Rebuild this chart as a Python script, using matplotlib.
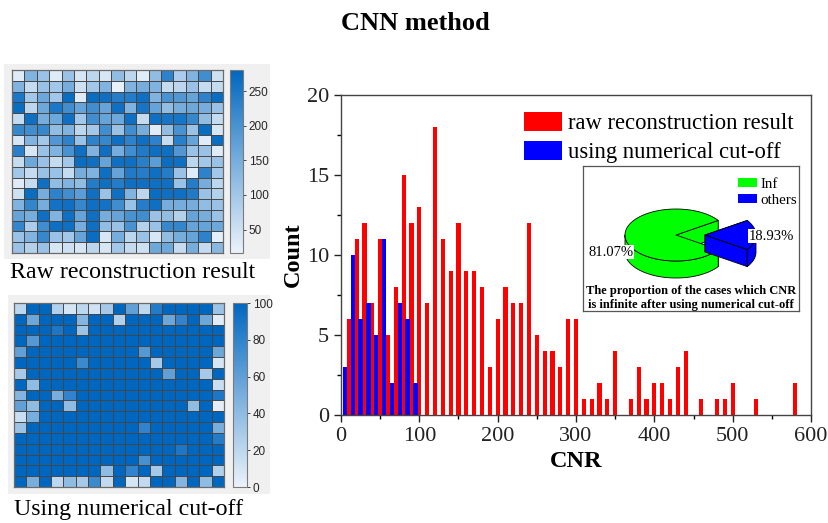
import numpy as np
import matplotlib
matplotlib.use("Agg")
import matplotlib.pyplot as plt
from matplotlib.colors import LinearSegmentedColormap
from matplotlib.patches import Polygon, Rectangle, Patch
from matplotlib.ticker import MultipleLocator

# ---------------- data ----------------
# CNR map of the raw reconstruction (17 x 17 cases)
raw_map = [
    [30, 140, 110, 30, 110, 40, 70, 40, 120, 70, 30, 120, 230, 90, 140, 210, 50],
    [140, 60, 110, 100, 150, 50, 100, 140, 20, 140, 150, 140, 60, 70, 110, 60, 60],
    [250, 100, 160, 100, 270, 30, 270, 265, 240, 240, 265, 140, 200, 190, 170, 230, 270],
    [270, 70, 160, 250, 210, 170, 210, 170, 265, 140, 255, 170, 120, 150, 160, 150, 110],
    [60, 265, 150, 160, 265, 100, 210, 170, 160, 265, 60, 265, 255, 255, 220, 120, 60],
    [220, 210, 220, 120, 140, 70, 100, 210, 110, 210, 150, 30, 120, 200, 110, 270, 40],
    [40, 140, 100, 190, 230, 110, 230, 220, 265, 230, 265, 230, 60, 235, 170, 30, 270],
    [235, 40, 110, 140, 200, 265, 140, 265, 150, 210, 245, 265, 265, 190, 110, 110, 30],
    [60, 160, 110, 60, 100, 270, 265, 170, 265, 265, 235, 180, 270, 265, 70, 100, 110],
    [100, 60, 110, 110, 60, 150, 140, 265, 170, 245, 240, 265, 240, 110, 30, 230, 100],
    [30, 60, 265, 120, 140, 120, 240, 265, 240, 265, 265, 265, 265, 110, 240, 150, 70],
    [50, 270, 150, 230, 210, 180, 265, 110, 265, 140, 70, 270, 265, 265, 245, 110, 80],
    [140, 225, 150, 260, 265, 220, 265, 260, 210, 110, 240, 265, 150, 150, 150, 120, 110],
    [170, 150, 265, 140, 265, 170, 265, 150, 170, 200, 210, 110, 120, 80, 170, 150, 110],
    [225, 90, 210, 265, 265, 150, 265, 120, 110, 200, 80, 110, 220, 225, 170, 170, 160],
    [110, 140, 220, 110, 100, 170, 270, 40, 150, 70, 110, 40, 120, 150, 170, 230, 25],
    [110, 80, 110, 40, 50, 40, 70, 40, 100, 60, 50, 160, 160, 60, 150, 60, 130],
]

# CNR map after the numerical cut-off (17 x 17 cases)
cut_map = [
    [20, 100, 100, 25, 10, 20, 12, 30, 100, 60, 20, 85, 100, 100, 100, 100, 35],
    [100, 55, 100, 100, 100, 45, 100, 100, 25, 100, 100, 100, 55, 80, 100, 55, 5],
    [100, 100, 100, 88, 100, 35, 100, 100, 100, 100, 100, 100, 100, 100, 100, 100, 100],
    [100, 65, 100, 100, 100, 100, 100, 100, 100, 100, 100, 100, 100, 100, 100, 100, 100],
    [60, 100, 100, 100, 100, 100, 100, 100, 100, 100, 65, 100, 100, 100, 100, 100, 55],
    [100, 100, 100, 100, 100, 75, 100, 100, 100, 100, 100, 30, 100, 100, 100, 100, 10],
    [30, 100, 100, 100, 100, 100, 100, 100, 100, 100, 100, 100, 60, 100, 100, 30, 100],
    [100, 40, 100, 100, 100, 100, 100, 100, 100, 100, 100, 100, 100, 100, 100, 100, 15],
    [45, 100, 100, 50, 80, 100, 100, 100, 100, 100, 100, 100, 100, 100, 100, 100, 88],
    [60, 40, 100, 100, 40, 100, 100, 100, 100, 100, 100, 100, 100, 100, 40, 100, 3],
    [15, 50, 100, 100, 100, 100, 100, 100, 100, 100, 100, 100, 100, 100, 100, 100, 100],
    [35, 100, 100, 100, 100, 100, 100, 100, 100, 100, 80, 100, 100, 100, 100, 100, 50],
    [100, 100, 100, 100, 100, 100, 100, 100, 100, 100, 100, 100, 100, 100, 100, 100, 85],
    [100, 100, 100, 100, 100, 100, 100, 100, 100, 100, 100, 100, 100, 88, 100, 100, 100],
    [100, 100, 100, 100, 100, 100, 100, 100, 100, 100, 70, 100, 100, 100, 100, 100, 100],
    [100, 100, 100, 100, 100, 100, 100, 40, 100, 80, 100, 30, 100, 100, 100, 100, 25],
    [100, 50, 100, 20, 40, 30, 75, 18, 100, 10, 18, 100, 100, 45, 100, 40, 100],
]

# CNR histogram
red_cnr = [10, 20, 30, 40, 50, 60, 70, 80, 90, 100, 110, 120, 130, 140, 150,
           160, 170, 180, 190, 200, 210, 220, 230, 240, 250, 260, 270, 280, 290, 300,
           310, 320, 330, 340, 350, 370, 380, 390, 400, 410, 420, 430, 440, 460,
           480, 490, 500, 530, 580]
red_count = [6, 11, 12, 7, 11, 5, 8, 15, 12, 13, 7, 18, 11, 9, 12,
             9, 9, 8, 3, 6, 8, 7, 7, 12, 5, 4, 4, 3, 6, 6,
             1, 1, 2, 1, 4, 1, 3, 1, 2, 2, 1, 3, 4, 1,
             1, 1, 2, 1, 2]
blue_cnr = [5, 15, 25, 35, 45, 55, 65, 75, 85, 95]
blue_count = [3, 10, 6, 7, 5, 11, 2, 7, 6, 2]

series_labels = ["raw reconstruction result", "using numerical cut-off"]

# Pie of the share of infinite CNR
pie_labels = ["Inf", "others"]
pie_pct = [81.07, 18.93]
pie_colors = ["#00FF00", "#0000FF"]

# ---------------- figure ----------------
W, H = 829, 523
fig = plt.figure(figsize=(W / 100, H / 100), dpi=100)
SERIF = ["Liberation Serif", "DejaVu Serif"]
SANS = ["Liberation Sans", "DejaVu Sans"]


def frac(x0, y0, x1, y1):
    return [x0 / W, 1 - y1 / H, (x1 - x0) / W, (y1 - y0) / H]


cmap = LinearSegmentedColormap.from_list("wb", ["#EBF2FA", "#78AEDD", "#0067C0"])

# grey panels behind the maps
for (x0, y0, x1, y1) in [(4, 64, 270, 259), (8, 295, 270, 494)]:
    fig.patches.append(Rectangle((x0 / W, 1 - y1 / H), (x1 - x0) / W, (y1 - y0) / H,
                                 transform=fig.transFigure, facecolor="#F0F0F0",
                                 edgecolor="none", zorder=-10))


def draw_map(data, box, cbox, vmin, vmax, ticks):
    ax = fig.add_axes(frac(*box))
    arr = np.array(data, dtype=float)
    nr, nc = arr.shape
    m = ax.pcolormesh(arr, cmap=cmap, vmin=vmin, vmax=vmax)
    # thin cell borders
    ax.vlines(np.arange(1, nc), 0, nr, color="#454545", linewidth=0.7)
    ax.hlines(np.arange(1, nr), 0, nc, color="#454545", linewidth=0.7)
    ax.set_xlim(0, nc)
    ax.set_ylim(nr, 0)
    ax.set_xticks([])
    ax.set_yticks([])
    for s in ax.spines.values():
        s.set_color("#6a6a6a")
        s.set_linewidth(0.9)
    cax = fig.add_axes(frac(*cbox))
    cb = fig.colorbar(m, cax=cax, ticks=ticks)
    cb.outline.set_edgecolor("#7a7a7a")
    cb.outline.set_linewidth(0.8)
    cax.tick_params(labelsize=8.5, colors="#262626", length=2.5, width=0.6, pad=1.5)
    for t in cax.get_yticklabels():
        t.set_family(SANS)
    return ax


draw_map(raw_map, (12, 70, 223, 253), (230, 70, 243, 253), 16, 281,
         [50, 100, 150, 200, 250])
draw_map(cut_map, (14, 303, 224, 487), (233, 303, 247, 487), 0, 100,
         [0, 20, 40, 60, 80, 100])

fig.text(133 / W, 1 - 273 / H, "Raw reconstruction result", family=SERIF,
         fontsize=17.2, ha="center", va="center")
fig.text(129 / W, 1 - 510 / H, "Using numerical cut-off", family=SERIF,
         fontsize=17.2, ha="center", va="center")

fig.text(415 / W, 1 - 23 / H, "CNN method", family=SERIF, fontsize=19,
         fontweight="bold", ha="center", va="center")

# ---------------- histogram ----------------
ax = fig.add_axes(frac(341, 95, 811, 415))
ax.bar(red_cnr, red_count, width=5.4, color="#FF0000", label=series_labels[0])
ax.bar(blue_cnr, blue_count, width=5.4, color="#0000FF", label=series_labels[1])
ax.set_xlim(0, 600)
ax.set_ylim(0, 20)
ax.xaxis.set_major_locator(MultipleLocator(100))
ax.xaxis.set_minor_locator(MultipleLocator(50))
ax.yaxis.set_major_locator(MultipleLocator(5))
ax.yaxis.set_minor_locator(MultipleLocator(2.5))
ax.tick_params(which="major", direction="out", length=5, width=1, labelsize=16,
               colors="#222222", top=False, right=False)
ax.tick_params(which="minor", direction="out", length=3, width=1, top=False, right=False)
for t in ax.get_xticklabels() + ax.get_yticklabels():
    t.set_family(SERIF)
for s in ax.spines.values():
    s.set_color("#444444")
    s.set_linewidth(1.0)
ax.set_xlabel("CNR", family=SERIF, fontsize=17.5, fontweight="bold", labelpad=4)
ax.set_ylabel("Count", family=SERIF, fontsize=17.5, fontweight="bold", labelpad=2)

leg = ax.legend(loc="upper left", bbox_to_anchor=((524 - 341) / 470, (415 - 112) / 320),
                frameon=False, borderpad=0, borderaxespad=0, handlelength=1.7,
                handleheight=0.9, handletextpad=0.25, labelspacing=0.3,
                prop={"family": SERIF, "size": 16.3})

# ---------------- 3-D pie inset ----------------
ix0, iy0, ix1, iy1 = 583, 166, 799, 311
pax = fig.add_axes(frac(ix0, iy0, ix1, iy1))
pax.set_xlim(0, ix1 - ix0)
pax.set_ylim(iy1 - iy0, 0)
pax.set_xticks([])
pax.set_yticks([])
for s in pax.spines.values():
    s.set_color("#555555")
    s.set_linewidth(0.9)

cx, cy, rx, ry, depth = 93.0, 69.0, 51.0, 26.0, 17.0
explode = [0.0, 29.0]
start = 360 * pie_pct[1] / 100 / 2  # the smaller slice is centred on the right


def arc(a0, a1, ox, oy, z):
    t = np.radians(np.linspace(a0, a1, max(3, int(abs(a1 - a0)) + 2)))
    return np.column_stack([ox + rx * np.cos(t), oy - ry * np.sin(t) + z])


def front_ranges(a0, a1):
    out = []
    for lo, hi in [(180, 360), (540, 720)]:
        s, e = max(a0, lo), min(a1, hi)
        if e > s:
            out.append((s, e))
    return out


kw = dict(edgecolor="black", linewidth=0.6, joinstyle="round")
a = start
for pct, col, ex in zip(pie_pct, pie_colors, explode):
    span = 360 * pct / 100
    a0, a1 = a, a + span
    mid = np.radians((a0 + a1) / 2)
    ox = cx + ex * np.cos(mid)
    oy = cy - ex * np.sin(mid) * ry / rx
    # radial cut faces
    for ang in (a1, a0):
        p = arc(ang, ang, ox, oy, 0)[0]
        pax.add_patch(Polygon([(ox, oy), p, (p[0], p[1] + depth), (ox, oy + depth)],
                              facecolor=col, **kw))
    # outer wall facing the viewer
    for s, e in front_ranges(a0, a1):
        top = arc(s, e, ox, oy, 0)
        bot = arc(s, e, ox, oy, depth)[::-1]
        pax.add_patch(Polygon(np.vstack([top, bot]), facecolor=col, **kw))
    # top face
    pts = np.vstack([[ox, oy], arc(a0, a1, ox, oy, 0)])
    pax.add_patch(Polygon(pts, facecolor=col, **kw))
    a = a1

pax.text(28, 86, f"{pie_pct[0]:.2f}%", family=SERIF, fontsize=10.5, ha="center",
         va="center", bbox=dict(facecolor="white", edgecolor="none", pad=0.5))
pax.text(188, 70, f"{pie_pct[1]:.2f}%", family=SERIF, fontsize=10.5, ha="center",
         va="center", bbox=dict(facecolor="white", edgecolor="none", pad=0.5))

pax.legend(handles=[Patch(facecolor=c, edgecolor="none", label=l)
                    for c, l in zip(pie_colors, pie_labels)],
           loc="upper left", bbox_to_anchor=(155 / 216, 1 - 12 / 145), frameon=False,
           borderpad=0, borderaxespad=0, handlelength=1.3, handleheight=0.55,
           handletextpad=0.2, labelspacing=0.2, prop={"family": SERIF, "size": 10.8})

pax.text(108, 125, "The proportion of the cases which CNR", family=SERIF,
         fontsize=9, fontweight="bold", ha="center", va="center")
pax.text(108, 139, "is infinite after using numerical cut-off", family=SERIF,
         fontsize=9, fontweight="bold", ha="center", va="center")

fig.savefig("out.png", dpi=100)
